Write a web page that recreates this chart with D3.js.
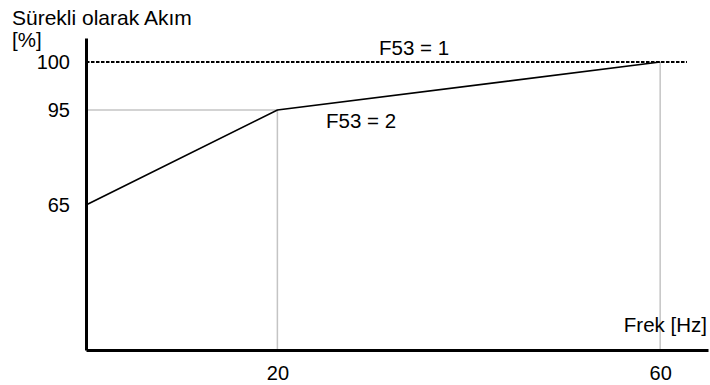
<!DOCTYPE html>
<html><head><meta charset="utf-8">
<script src="https://cdn.jsdelivr.net/npm/d3@7"></script>
<style>
body{margin:0;background:#fff;}
text{font-family:"Liberation Sans",Arial,sans-serif;fill:#000;}
</style></head>
<body>
<svg id="c" width="710" height="385"></svg>
<script>
const freqs = [0, 20, 60];
const current = [65, 95, 100];
const xTicks = [20, 60];
const yTicks = [65, 95, 100];
const f53one = [0, 62.8];
const yTitle = ["Sürekli olarak Akım", "[%]"];
const xTitle = "Frek [Hz]";
const seriesLabels = ["F53 = 1", "F53 = 2"];

const svg = d3.select("#c");
const x = d3.scaleLinear().domain([0, 65]).range([86, 708]);
const y = d3.scaleLinear().domain([50, 65, 95, 100, 102.5]).range([350, 205, 110, 62, 38]);

// gray guides
const guides = svg.append("g").attr("stroke", "#c4c4c4").attr("stroke-width", 1.5);
guides.append("line").attr("x1", x(0)).attr("x2", x(freqs[1])).attr("y1", y(current[1])).attr("y2", y(current[1]));
guides.append("line").attr("x1", x(freqs[1])).attr("x2", x(freqs[1])).attr("y1", y(current[1])).attr("y2", y(50));
guides.append("line").attr("x1", x(freqs[2])).attr("x2", x(freqs[2])).attr("y1", y(current[2])).attr("y2", y(50));

// dashed F53=1
svg.append("line").attr("x1", x(f53one[0])).attr("x2", x(f53one[1]))
  .attr("y1", y(100)).attr("y2", y(100))
  .attr("stroke", "#000").attr("stroke-width", 2.2).attr("stroke-dasharray", "3.5,1.5");

// F53=2 line
const pts = freqs.map((f, i) => [f, current[i]]);
svg.append("path").datum(pts)
  .attr("d", d3.line().x(d => x(d[0])).y(d => y(d[1])))
  .attr("fill", "none").attr("stroke", "#000").attr("stroke-width", 1.7);

// axes
const xa = svg.append("g").attr("transform", `translate(0,${y(50)})`)
  .call(d3.axisBottom(x).tickValues(xTicks).tickSize(0).tickPadding(16).tickSizeOuter(0));
xa.select(".domain").attr("stroke-width", 3);
xa.selectAll("text").style("font-size", "20px").style("font-family", "Liberation Sans, Arial, sans-serif");

const ya = svg.append("g").attr("transform", `translate(${x(0)},0)`)
  .call(d3.axisLeft(y).tickValues(yTicks).tickSize(0).tickPadding(16).tickSizeOuter(0));
ya.select(".domain").attr("stroke-width", 3);
ya.selectAll("text").style("font-size", "20px").style("font-family", "Liberation Sans, Arial, sans-serif");

// labels
svg.append("text").attr("x", 12).attr("y", 25).style("font-size", "21px").text(yTitle[0]);
svg.append("text").attr("x", 12).attr("y", 46.5).style("font-size", "20.5px").text(yTitle[1]);
svg.append("text").attr("x", 707).attr("y", 332).attr("text-anchor", "end").style("font-size", "20.5px").text(xTitle);
svg.append("text").attr("x", 379).attr("y", 55).style("font-size", "20.5px").text(seriesLabels[0]);
svg.append("text").attr("x", 326).attr("y", 128).style("font-size", "20.5px").text(seriesLabels[1]);
</script>
</body></html>
